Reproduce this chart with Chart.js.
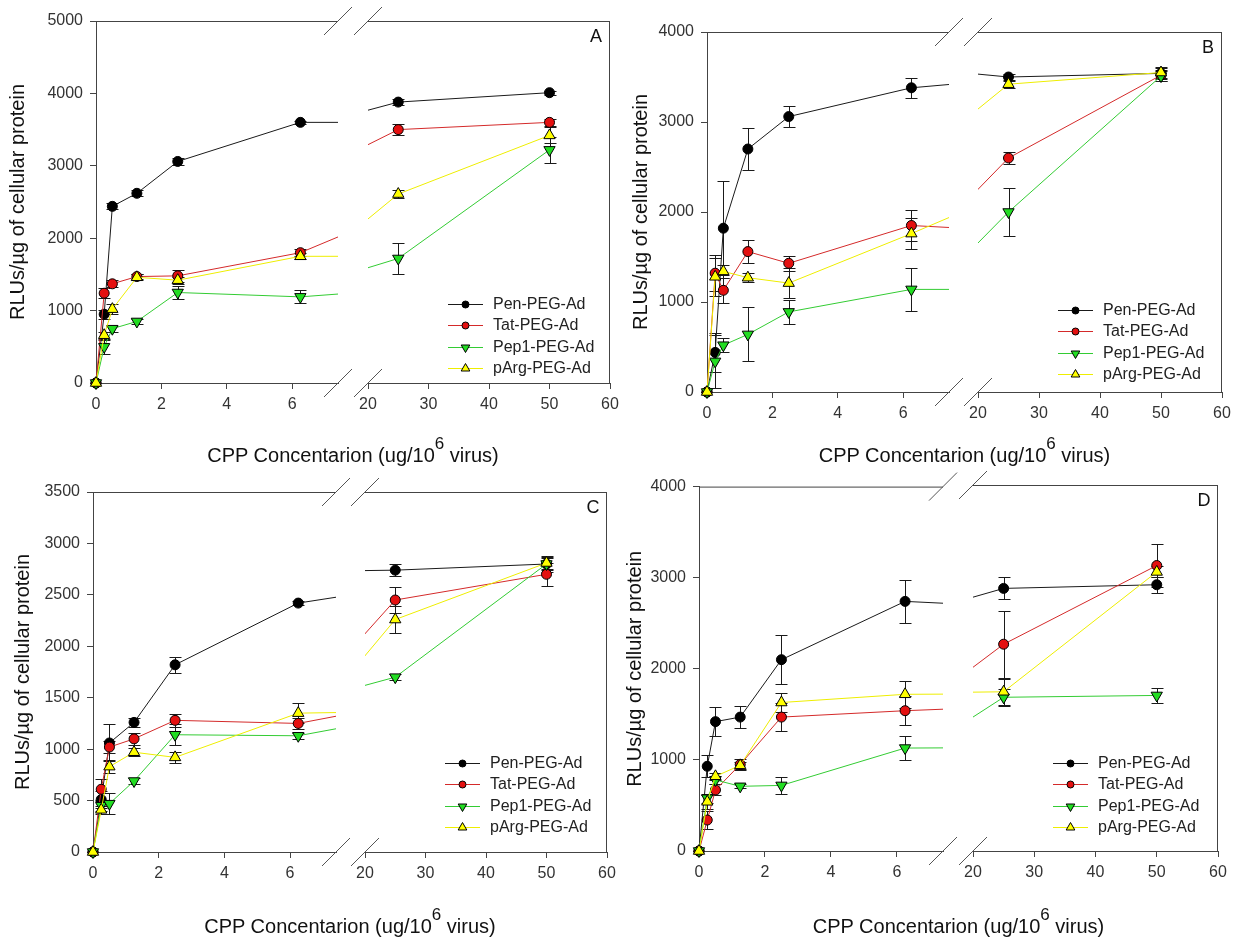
<!DOCTYPE html>
<html>
<head>
<meta charset="utf-8">
<script src="https://cdn.jsdelivr.net/npm/chart.js@4.4.0/dist/chart.umd.min.js"></script>
<style>
  body { margin: 0; background: #fff; width: 1247px; height: 939px; overflow: hidden;
         font-family: "Liberation Sans", Arial, sans-serif; }
  .panel { position: absolute; width: 630px; height: 470px; }
  .panel canvas { position: absolute; left: 0; top: 0; }
  .xtitle { position: absolute; font-size: 20px; line-height: 20px; color: #111;
            white-space: nowrap; transform: translateX(-50%); }
  .xtitle span { font-size: 17px; position: relative; top: -13px; }
</style>
</head>
<body>
<script>
// x values (ug CPP / 10^6 virus); 12.5 falls in the axis break
const doses = [0, 0.25, 0.5, 1.25, 2.5, 6.25, 12.5, 25, 50];
const seriesNames = ['Pen-PEG-Ad', 'Tat-PEG-Ad', 'Pep1-PEG-Ad', 'pArg-PEG-Ad'];
const leftXTicks = [0, 2, 4, 6];
const rightXTicks = [20, 30, 40, 50, 60];
const yTicksA = [0, 1000, 2000, 3000, 4000, 5000];
const yTicksB = [0, 1000, 2000, 3000, 4000];
const yTicksC = [0, 500, 1000, 1500, 2000, 2500, 3000, 3500];
const yTicksD = [0, 1000, 2000, 3000, 4000];

// panel A
const penA  = [0, 950, 2440, 2620, 3060, 3600, 3600, 3880, 4010];
const tatA  = [0, 1240, 1370, 1470, 1480, 1800, 2980, 3500, 3600];
const pep1A = [0, 500, 750, 850, 1250, 1190, 1400, 1720, 3220];
const pArgA = [0, 660, 1020, 1460, 1420, 1750, 1750, 2610, 3420];
const penAErr  = [0, 60, 40, 40, 50, 25, 0, 40, 30];
const tatAErr  = [0, 70, 50, 40, 80, 50, 0, 80, 50];
const pep1AErr = [0, 100, 40, 40, 90, 90, 0, 210, 180];
const pArgAErr = [0, 50, 70, 40, 50, 40, 0, 60, 110];

// panel B
const penB  = [0, 440, 1820, 2700, 3060, 3380, 3580, 3500, 3540];
const tatB  = [0, 1320, 1130, 1560, 1430, 1850, 1730, 2600, 3520];
const pep1B = [0, 340, 520, 640, 890, 1140, 1140, 2000, 3510];
const pArgB = [0, 1280, 1340, 1270, 1210, 1760, 2730, 3420, 3550];
const penBErr  = [0, 220, 520, 230, 120, 110, 0, 30, 60];
const tatBErr  = [0, 200, 140, 130, 80, 170, 0, 70, 60];
const pep1BErr = [0, 290, 80, 300, 130, 240, 0, 265, 60];
const pArgBErr = [0, 210, 75, 50, 170, 170, 0, 40, 60];

// panel C
const penC  = [0, 510, 1060, 1260, 1820, 2420, 2730, 2740, 2800];
const tatC  = [0, 610, 1020, 1100, 1280, 1250, 1630, 2450, 2700];
const pep1C = [0, 450, 470, 690, 1140, 1130, 1500, 1700, 2800];
const pArgC = [0, 410, 830, 970, 920, 1350, 1380, 2260, 2810];
const penCErr  = [0, 80, 180, 40, 75, 20, 0, 60, 80];
const tatCErr  = [0, 100, 60, 60, 60, 50, 0, 130, 110];
const pep1CErr = [0, 50, 100, 30, 100, 30, 0, 30, 60];
const pArgCErr = [0, 40, 60, 40, 50, 100, 0, 130, 60];

// panel D
const penD  = [0, 930, 1420, 1470, 2100, 2740, 2630, 2870, 2910];
const tatD  = [0, 340, 670, 950, 1470, 1540, 1630, 2260, 3120];
const pep1D = [0, 580, 780, 710, 720, 1130, 1140, 1680, 1700];
const pArgD = [0, 540, 820, 940, 1630, 1720, 1730, 1740, 3050];
const penDErr  = [0, 120, 160, 120, 270, 240, 0, 120, 90];
const tatDErr  = [0, 100, 60, 60, 150, 160, 0, 365, 230];
const pep1DErr = [0, 50, 40, 20, 90, 130, 0, 90, 80];
const pArgDErr = [0, 80, 40, 40, 100, 150, 0, 140, 60];

const FONT = '"Liberation Sans", Arial, sans-serif';
Chart.defaults.font.family = FONT;

const seriesStyle = [
  { line: '#1a1a1a', fill: '#000000', shape: 'circle',   rot: 0,   r: 5,   order: 3 },
  { line: '#d42a2a', fill: '#e41010', shape: 'circle',   rot: 0,   r: 5,   order: 2 },
  { line: '#33cc33', fill: '#22dd22', shape: 'triangle', rot: 180, r: 6.5, order: 1 },
  { line: '#eeee00', fill: '#ffff00', shape: 'triangle', rot: 0,   r: 6.5, order: 0 }
];

// layout of each panel (container offset, segment pixel ranges inside it)
const panels = [
  { letter: 'A', box: [0, 0],     left: [96, 338], right: [368, 610], top: 21, bottom: 383,
    yTicks: yTicksA, vals: [penA, tatA, pep1A, pArgA], errs: [penAErr, tatAErr, pep1AErr, pArgAErr],
    titlePad: 6, legendUp: 79, xTitleTop: 445 },
  { letter: 'B', box: [620, 0],   left: [87, 329], right: [358, 602], top: 32, bottom: 392,
    yTicks: yTicksB, vals: [penB, tatB, pep1B, pArgB], errs: [penBErr, tatBErr, pep1BErr, pArgBErr],
    titlePad: 9, legendUp: 82, xTitleTop: 445 },
  { letter: 'C', box: [0, 470],   left: [93, 336], right: [365, 607], top: 22, bottom: 382,
    yTicks: yTicksC, vals: [penC, tatC, pep1C, pArgC], errs: [penCErr, tatCErr, pep1CErr, pArgCErr],
    titlePad: 11, legendUp: 89, xTitleTop: 446 },
  { letter: 'D', box: [620, 470], left: [79, 323], right: [353, 598], top: 15, bottom: 381,
    yTicks: yTicksD, vals: [penD, tatD, pep1D, pArgD], errs: [penDErr, tatDErr, pep1DErr, pArgDErr],
    titlePad: 3, legendUp: 88, xTitleTop: 446 }
];

const W = 630, H = 470, XH = 30;

const errorBarPlugin = {
  id: 'errorBars',
  beforeDatasetsDraw(chart) {
    const ctx = chart.ctx, xs = chart.scales.x, ys = chart.scales.y;
    ctx.save();
    ctx.strokeStyle = '#1a1a1a';
    ctx.lineWidth = 1;
    chart.data.datasets.forEach(ds => {
      ds.data.forEach((p, i) => {
        const e = ds.errors[i];
        if (!e || p.x < xs.min || p.x > xs.max) return;
        const x = Math.round(xs.getPixelForValue(p.x)) + 0.5;
        const y1 = Math.round(ys.getPixelForValue(p.y - e)) + 0.5;
        const y2 = Math.round(ys.getPixelForValue(p.y + e)) + 0.5;
        ctx.beginPath();
        ctx.moveTo(x, y1); ctx.lineTo(x, y2);
        ctx.moveTo(x - 6, y1); ctx.lineTo(x + 6, y1);
        ctx.moveTo(x - 6, y2); ctx.lineTo(x + 6, y2);
        ctx.stroke();
      });
    });
    ctx.restore();
  }
};

function marker(ctx, shape, rot, r, x, y) {
  ctx.save();
  ctx.translate(x, y);
  ctx.rotate(rot * Math.PI / 180);
  ctx.beginPath();
  if (shape === 'circle') {
    ctx.arc(0, 0, r, 0, Math.PI * 2);
  } else {
    const h = r * 1.5, w = r * Math.sqrt(3) / 2;
    ctx.moveTo(0, -r);
    ctx.lineTo(w, r / 2);
    ctx.lineTo(-w, r / 2);
    ctx.closePath();
  }
  ctx.fill();
  ctx.stroke();
  ctx.restore();
}

const framePlugin = {
  id: 'frame',
  afterDraw(chart, args, opts) {
    const ctx = chart.ctx, a = chart.chartArea;
    ctx.save();
    ctx.strokeStyle = '#444';
    ctx.lineWidth = 1;
    ctx.beginPath();
    ctx.moveTo(a.left, a.top + 0.5); ctx.lineTo(a.right, a.top + 0.5);
    if (opts.side === 'right') {
      ctx.moveTo(a.right - 0.5, a.top); ctx.lineTo(a.right - 0.5, a.bottom);
    }
    ctx.stroke();

    // axis break marks
    const bx = opts.side === 'right' ? a.left : a.right;
    ctx.strokeStyle = '#555';
    [a.top, a.bottom].forEach(by => {
      ctx.beginPath();
      ctx.moveTo(bx - 14, by + 14);
      ctx.lineTo(bx + 14, by - 14);
      ctx.stroke();
    });

    if (opts.side === 'right') {
      // legend
      const lx = a.left + 80;
      const y0 = a.bottom - opts.legendUp;
      seriesNames.forEach((name, i) => {
        const st = seriesStyle[i];
        const y = Math.round(y0 + i * 21.3);
        ctx.strokeStyle = st.line;
        ctx.beginPath();
        ctx.moveTo(lx, y + 0.5); ctx.lineTo(lx + 35, y + 0.5);
        ctx.stroke();
        ctx.fillStyle = st.fill;
        ctx.strokeStyle = '#000';
        marker(ctx, st.shape, st.rot, st.r - 1.5, lx + 17.5, y + 0.5);
        ctx.fillStyle = '#222';
        ctx.font = '16px ' + FONT;
        ctx.textAlign = 'left';
        ctx.textBaseline = 'middle';
        ctx.fillText(name, lx + 45, y + 1);
      });
      // panel letter
      ctx.fillStyle = '#111';
      ctx.font = '18px ' + FONT;
      ctx.textAlign = 'center';
      ctx.textBaseline = 'middle';
      ctx.fillText(opts.letter, a.right - 14, a.top + 16);
    }
    ctx.restore();
  }
};

function makeDatasets(p, side) {
  return seriesNames.map((name, s) => {
    const st = seriesStyle[s];
    return {
      label: name,
      data: doses.map((x, i) => ({ x: x, y: p.vals[s][i] })),
      errors: p.errs[s],
      borderColor: st.line,
      borderWidth: 1,
      pointStyle: st.shape,
      pointRotation: st.rot,
      pointRadius: st.r,
      pointBackgroundColor: st.fill,
      pointBorderColor: '#000',
      pointBorderWidth: 1,
      tension: 0,
      order: st.order,
      clip: side === 'left' ? { left: 8, right: 0, top: 8, bottom: 8 } : { left: 0, right: 8, top: 8, bottom: 8 }
    };
  });
}

function tickScale(ticks) {
  return s => { s.ticks = ticks.map(v => ({ value: v })); };
}

const tickFont = { size: 16, family: FONT };
const gridOpts = { drawOnChartArea: false, drawTicks: true, tickLength: 6, color: '#444' };
const plainLabel = v => String(v);

panels.forEach(p => {
  const div = document.createElement('div');
  div.className = 'panel';
  div.style.left = p.box[0] + 'px';
  div.style.top = p.box[1] + 'px';
  document.body.appendChild(div);

  const yMax = p.yTicks[p.yTicks.length - 1];

  ['left', 'right'].forEach(side => {
    const cv = document.createElement('canvas');
    cv.width = W; cv.height = H;
    div.appendChild(cv);
    const isLeft = side === 'left';
    const seg = isLeft ? p.left : p.right;
    const xTicks = isLeft ? leftXTicks : rightXTicks;

    new Chart(cv, {
      type: 'line',
      data: { datasets: makeDatasets(p, side) },
      options: {
        responsive: false,
        animation: false,
        events: [],
        layout: {
          autoPadding: false,
          padding: { left: isLeft ? 0 : seg[0], right: W - seg[1], top: p.top, bottom: H - XH - p.bottom }
        },
        plugins: {
          legend: { display: false },
          tooltip: { enabled: false },
          frame: { side: side, legendUp: p.legendUp, letter: p.letter }
        },
        scales: {
          x: {
            type: 'linear',
            min: isLeft ? 0 : 20,
            max: isLeft ? 7.4 : 60,
            afterBuildTicks: tickScale(xTicks),
            afterFit: s => { s.height = XH; },
            ticks: { font: tickFont, color: '#333', padding: 6, callback: plainLabel },
            grid: gridOpts,
            border: { color: '#444', width: 1 }
          },
          y: {
            display: isLeft,
            min: 0,
            max: yMax,
            afterBuildTicks: tickScale(p.yTicks),
            afterFit: s => { s.width = isLeft ? seg[0] : 0; },
            ticks: { font: tickFont, color: '#333', padding: 7, callback: plainLabel },
            grid: gridOpts,
            border: { color: '#444', width: 1 },
            title: {
              display: isLeft,
              text: 'RLUs/µg of cellular protein',
              font: { size: 20, family: FONT },
              color: '#111',
              padding: { top: p.titlePad, bottom: 0 }
            }
          }
        }
      },
      plugins: [errorBarPlugin, framePlugin]
    });
  });

  const xt = document.createElement('div');
  xt.className = 'xtitle';
  xt.style.left = ((p.left[0] + p.right[1]) / 2) + 'px';
  xt.style.top = p.xTitleTop + 'px';
  xt.innerHTML = 'CPP Concentarion (ug/10<span>6</span> virus)';
  div.appendChild(xt);
});
</script>
</body>
</html>
